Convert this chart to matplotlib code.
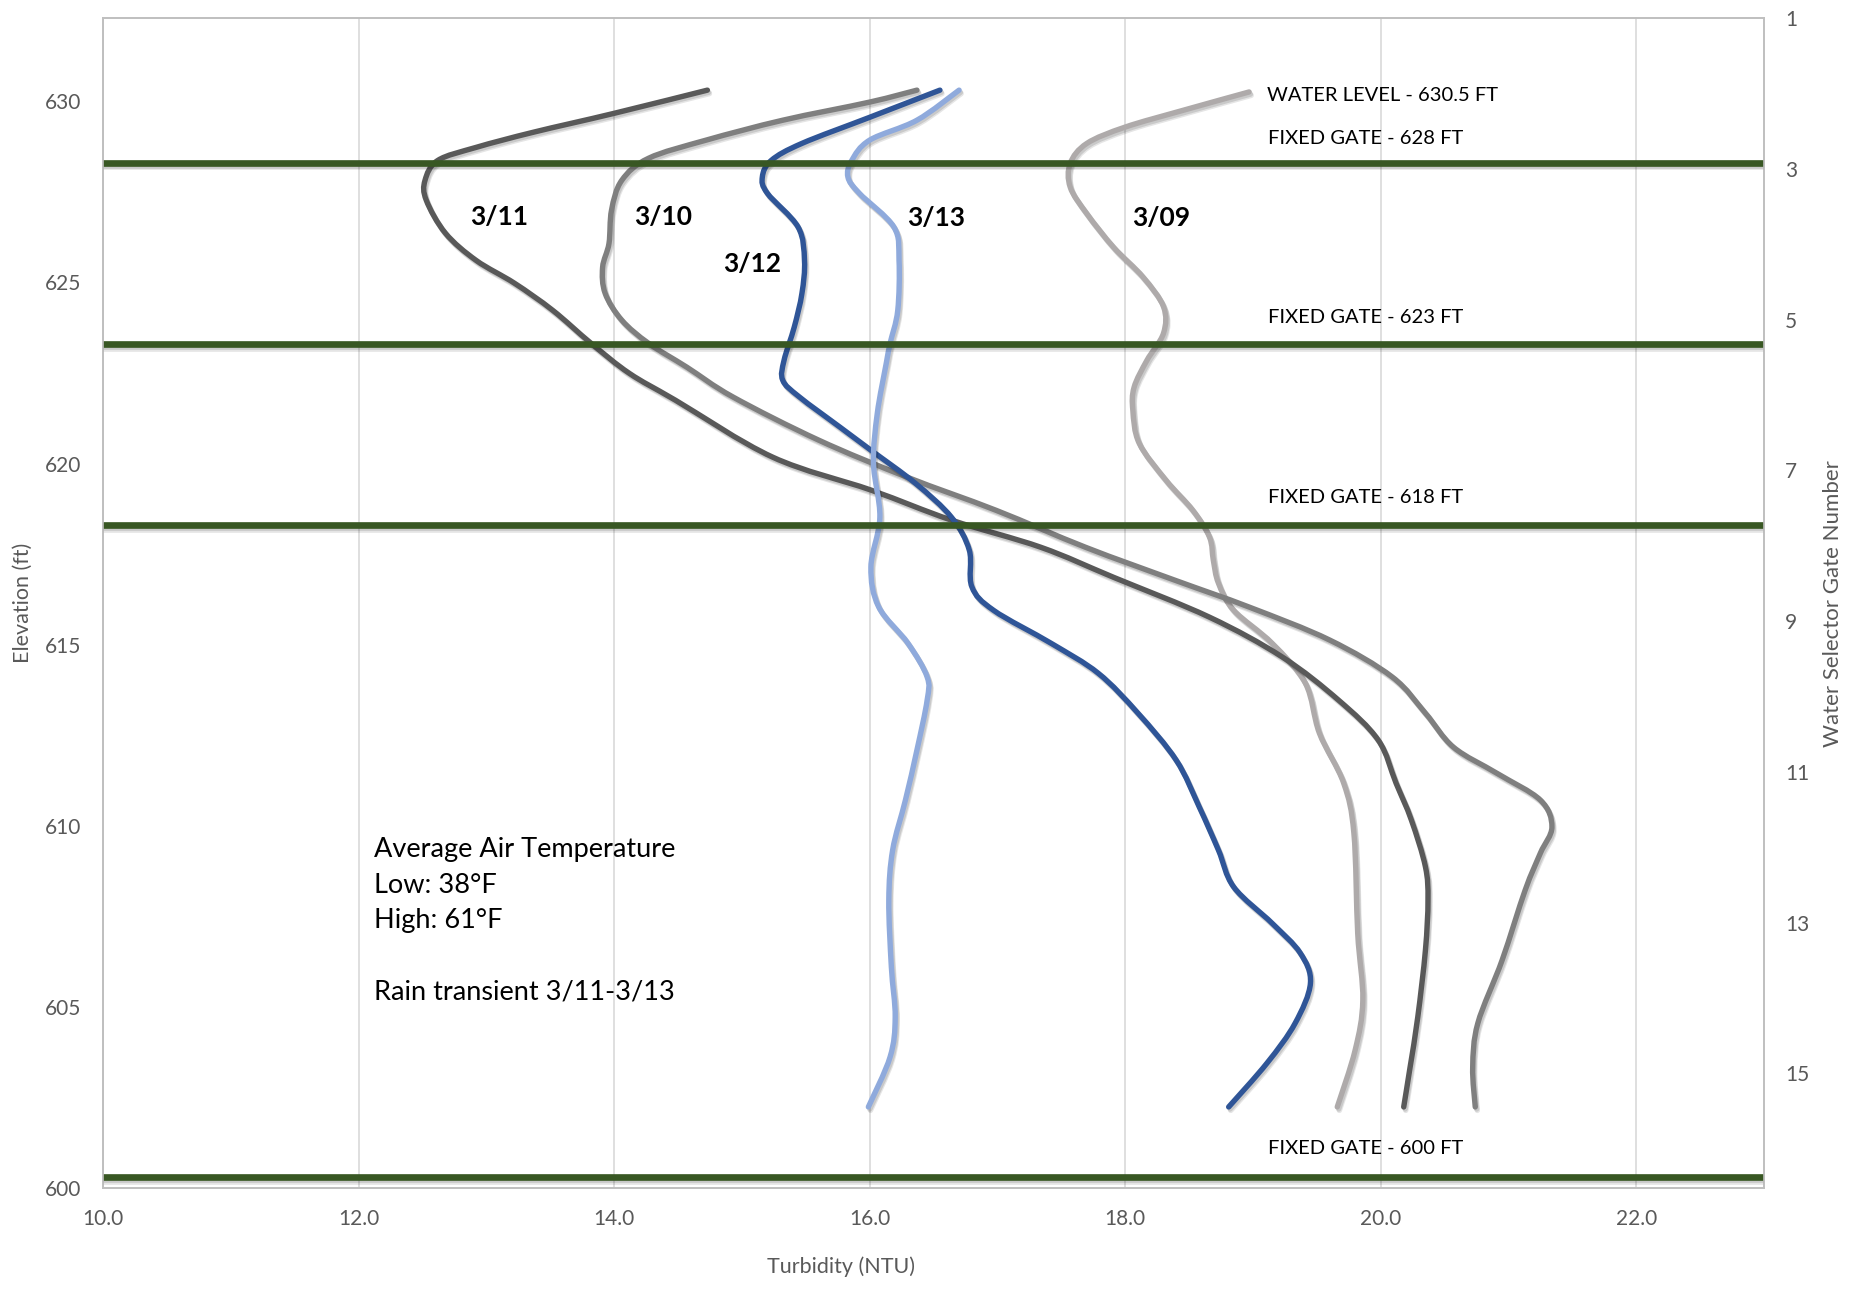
#!/usr/bin/env python3
"""Turbidity profiles vs elevation, with fixed gate levels."""

import numpy as np
import matplotlib
matplotlib.use("Agg")
import matplotlib.pyplot as plt
import matplotlib.patheffects as pe
from matplotlib.path import Path
from matplotlib.patches import PathPatch

plt.rcParams["font.family"] = ["Lato", "DejaVu Sans"]

# ---- data (elevation ft, turbidity NTU), top to bottom ----
ELEV_0309 = [630.26, 629.75, 629.29, 628.84, 628.29, 627.63, 626.90, 625.97,
             625.15, 624.33, 623.60, 622.85, 622.11, 621.47, 620.56, 619.54,
             618.71, 617.97, 617.33, 616.70, 615.95, 615.04, 613.94, 612.56,
             611.18, 609.80, 607.03, 605.19, 603.81, 602.24]
NTU_0309 = [18.97, 18.45, 18.00, 17.70, 17.57, 17.57, 17.70, 17.91,
            18.14, 18.30, 18.30, 18.17, 18.07, 18.06, 18.11, 18.32,
            18.53, 18.66, 18.69, 18.73, 18.85, 19.15, 19.41, 19.52,
            19.71, 19.79, 19.82, 19.86, 19.80, 19.66]

ELEV_0310 = [630.31, 629.98, 629.48, 628.93, 628.43, 627.82, 627.00, 626.08,
             625.42, 624.70, 623.96, 623.32, 622.66, 621.84, 620.65, 619.63,
             618.71, 617.69, 616.78, 616.04, 615.13, 614.11, 613.11, 612.17,
             611.45, 610.71, 609.97, 609.25, 608.22, 606.29, 604.55, 603.34,
             602.24]
NTU_0310 = [16.37, 16.00, 15.32, 14.72, 14.27, 14.06, 13.98, 13.96,
            13.91, 13.93, 14.06, 14.27, 14.57, 14.93, 15.60, 16.29,
            16.99, 17.69, 18.39, 18.97, 19.60, 20.09, 20.35, 20.57,
            20.91, 21.25, 21.34, 21.25, 21.13, 20.95, 20.76, 20.72,
            20.74]

ELEV_0311 = [630.31, 629.67, 629.15, 628.73, 628.37, 627.82, 627.27, 626.36,
             625.61, 624.98, 624.23, 623.32, 622.49, 621.75, 620.18, 619.27,
             618.44, 617.69, 616.86, 615.76, 614.66, 613.47, 612.37, 611.18,
             610.16, 608.87, 607.95, 606.57, 604.72, 603.34, 602.24]
NTU_0311 = [14.73, 14.00, 13.37, 12.92, 12.62, 12.52, 12.53, 12.68,
            12.92, 13.22, 13.52, 13.82, 14.12, 14.48, 15.24, 16.01,
            16.64, 17.34, 17.91, 18.66, 19.23, 19.67, 19.98, 20.12,
            20.24, 20.35, 20.37, 20.35, 20.29, 20.23, 20.18]

ELEV_0312 = [630.31, 629.56, 628.84, 628.37, 627.91, 627.46, 626.53, 625.61,
             624.70, 623.77, 622.85, 622.30, 621.84, 621.00, 620.37, 619.45,
             618.52, 617.61, 616.60, 615.95, 615.04, 614.21, 613.11, 611.81,
             610.52, 609.33, 608.31, 607.31, 606.49, 605.66, 604.55, 603.45,
             602.24]
NTU_0312 = [16.55, 16.00, 15.47, 15.23, 15.16, 15.20, 15.44, 15.49,
            15.47, 15.41, 15.33, 15.32, 15.45, 15.77, 16.01, 16.36,
            16.64, 16.78, 16.80, 16.97, 17.42, 17.79, 18.10, 18.40,
            18.58, 18.73, 18.85, 19.15, 19.37, 19.45, 19.33, 19.11,
            18.81]

ELEV_0313 = [630.31, 629.48, 628.93, 628.37, 627.91, 627.46, 626.53, 625.61,
             624.23, 623.32, 622.77, 621.39, 620.01, 618.52, 617.15, 616.05,
             615.04, 614.11, 613.47, 612.09, 610.71, 609.33, 607.95, 606.10,
             604.72, 603.62, 602.24]
NTU_0313 = [16.70, 16.37, 16.00, 15.86, 15.83, 15.92, 16.19, 16.23,
            16.22, 16.16, 16.13, 16.06, 16.03, 16.08, 16.01, 16.07,
            16.30, 16.45, 16.45, 16.37, 16.28, 16.18, 16.15, 16.17,
            16.20, 16.16, 15.99]

SERIES = [
    ("3/09", ELEV_0309, NTU_0309, "#AEAAAA"),
    ("3/10", ELEV_0310, NTU_0310, "#7F7F7F"),
    ("3/11", ELEV_0311, NTU_0311, "#595959"),
    ("3/12", ELEV_0312, NTU_0312, "#2F5597"),
    ("3/13", ELEV_0313, NTU_0313, "#8FAADC"),
]

GATE_ELEV = [628.3, 623.3, 618.3, 600.3]
GATE_LABELS = ["FIXED GATE - 628 FT", "FIXED GATE - 623 FT",
               "FIXED GATE - 618 FT", "FIXED GATE - 600 FT"]
WATER_LABEL = "WATER LEVEL - 630.5 FT"

NOTE = "Average Air Temperature\nLow: 38°F\nHigh: 61°F\n\nRain transient 3/11-3/13"

AXIS_GREY = "#595959"
GATE_GREEN = "#385723"

SHADOW = [pe.SimpleLineShadow(offset=(1.5, -2.5), shadow_color="#000000", alpha=0.10),
          pe.SimpleLineShadow(offset=(1.0, -1.5), shadow_color="#000000", alpha=0.12),
          pe.Normal()]


def smooth_path(x, y):
    """Excel-style smoothed line: Catmull-Rom through the points as cubic Beziers."""
    pts = np.column_stack([x, y])
    n = len(pts)
    verts = [pts[0]]
    codes = [Path.MOVETO]
    for i in range(n - 1):
        p0 = pts[max(i - 1, 0)]
        p1 = pts[i]
        p2 = pts[i + 1]
        p3 = pts[min(i + 2, n - 1)]
        verts += [p1 + (p2 - p0) / 6.0, p2 - (p3 - p1) / 6.0, p2]
        codes += [Path.CURVE4] * 3
    return Path(verts, codes)


fig = plt.figure(figsize=(18.6, 12.9), dpi=100)
ax = fig.add_axes([0.0554, 0.079, 0.893, 0.907])

for i, (name, elev, ntu, color) in enumerate(SERIES):
    patch = PathPatch(smooth_path(ntu, elev), facecolor="none", edgecolor=color,
                      linewidth=3.9, capstyle="round", joinstyle="round", zorder=3 + i * 0.1)
    patch.set_path_effects(SHADOW)
    ax.add_patch(patch)

for g in GATE_ELEV:
    ax.axhline(g, color=GATE_GREEN, linewidth=4.8, zorder=5,
               path_effects=SHADOW)

# annotations
ax.text(19.11, 630.15, WATER_LABEL, fontsize=14.5, va="center", ha="left", zorder=6)
label_y = [628.98, 624.04, 619.07, 601.1]
for txt, yy in zip(GATE_LABELS, label_y):
    ax.text(19.12, yy, txt, fontsize=14.5, va="center", ha="left", zorder=6)

date_pos = {"3/11": (13.10, 626.82), "3/10": (14.38, 626.82), "3/12": (15.08, 625.52),
            "3/13": (16.52, 626.79), "3/09": (18.28, 626.79)}
for name, (xx, yy) in date_pos.items():
    ax.text(xx, yy, name, fontsize=19, fontweight="bold", ha="center", va="center", zorder=6)

ax.text(12.12, 609.7, NOTE, fontsize=19.5, ha="left", va="top", linespacing=1.54, zorder=6)

# axes
ax.set_xlim(10, 23)
ax.set_ylim(600, 632.3)
ax.set_xticks(np.arange(10, 23, 2))
ax.set_xticklabels([f"{v:.1f}" for v in np.arange(10, 23, 2)])
ax.set_yticks(np.arange(600, 631, 5))
ax.grid(axis="x", color="#D9D9D9", linewidth=1.2, zorder=0)
ax.set_axisbelow(True)
ax.tick_params(length=0, labelsize=15, labelcolor=AXIS_GREY)
ax.tick_params(axis="y", pad=16)
ax.tick_params(axis="x", pad=15)
ax.set_xlabel("Turbidity (NTU)", fontsize=15.5, color=AXIS_GREY)
ax.set_ylabel("Elevation (ft)", fontsize=15.5, color=AXIS_GREY)
ax.xaxis.set_label_coords(0.444, -0.058)
ax.yaxis.set_label_coords(-0.042, 0.5)

ax2 = ax.twinx()
ax2.set_ylim(16.52, 1)
ax2.set_yticks(np.arange(1, 16, 2))
ax2.tick_params(length=0, labelsize=15, labelcolor=AXIS_GREY, pad=15)
ax2.set_ylabel("Water Selector Gate Number", fontsize=16, color=AXIS_GREY)
ax2.yaxis.set_label_coords(1.0355, 0.5)

for a in (ax, ax2):
    for sp in a.spines.values():
        sp.set_color("#BFBFBF")
        sp.set_linewidth(1.2)

fig.savefig("out.png", dpi=100)
